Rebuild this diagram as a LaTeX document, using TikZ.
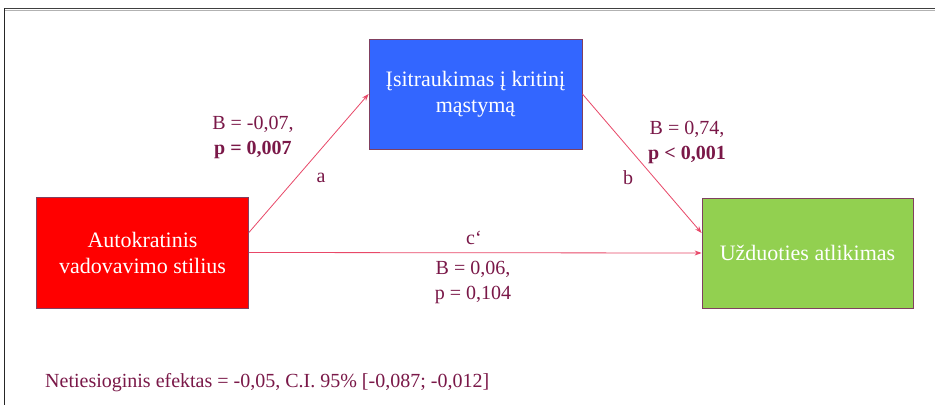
\documentclass[tikz,border=0pt]{standalone}
\usepackage{fontspec}
\setmainfont{Liberation Serif}
\usetikzlibrary{arrows.meta,calc}
\definecolor{lbl}{RGB}{122,24,72}
\definecolor{arr}{RGB}{232,72,104}
\definecolor{bord}{RGB}{128,64,96}
\definecolor{cred}{RGB}{255,0,0}
\definecolor{cblue}{RGB}{51,102,255}
\definecolor{cgreen}{RGB}{146,208,80}
\tikzset{
  varbox/.style={draw=bord, line width=0.8pt, text=white, align=center,
    font=\fontsize{22}{26}\selectfont, inner sep=0pt},
  coef/.style={text=lbl, align=center, font=\fontsize{20}{25}\selectfont, inner sep=0pt},
  path/.style={draw=arr, line width=0.8pt, -{Stealth[length=7pt,width=5pt]}}
}
\begin{document}
\begin{tikzpicture}[x=1pt,y=-1pt]
\useasboundingbox (0,0) rectangle (935,405);
\fill[white] (0,0) rectangle (935,405);
% frame
\draw[line width=1.3pt, black!75] (4,8.5) -- (935,8.5);
\draw[line width=0.7pt, black!30] (5,10) -- (935,10);
\draw[line width=1pt, black!85] (4.5,8) -- (4.5,405);
% boxes
\node[varbox, fill=cred, minimum width=212pt, minimum height=111pt] (red) at (142.5,252.5)
  {Autokratinis\\vadovavimo stilius};
\node[varbox, fill=cblue, minimum width=213pt, minimum height=110pt] (blue) at (475.5,94)
  {Įsitraukimas į kritinį\\mąstymą};
\node[varbox, fill=cgreen, minimum width=211pt, minimum height=110pt] (green) at (807.5,253)
  {Užduoties atlikimas};
% paths
\draw[path] ([yshift=20pt]red.east) -- (blue.west);
\draw[path] (blue.east) -- ([yshift=20pt]green.west);
\draw[path] (red.east) -- (green.west);
% labels
\node[coef] (la) at (321,178) {a};
\node[coef] (lb) at (628,178) {b};
\node[coef] (lc) at (474,238) {c‘};
\node[coef] (ca) at (253,137.5) {B = -0,07,\\\textbf{p = 0,007}};
\node[coef] (cb) at (687,142) {B = 0,74,\\\textbf{p < 0,001}};
\node[coef] (cc) at (473,282) {B = 0,06,\\p = 0,104};
\node[coef, anchor=west] (ind) at (45,383) {Netiesioginis efektas = -0,05, C.I. 95\% [-0,087; -0,012]};
\end{tikzpicture}
\end{document}
